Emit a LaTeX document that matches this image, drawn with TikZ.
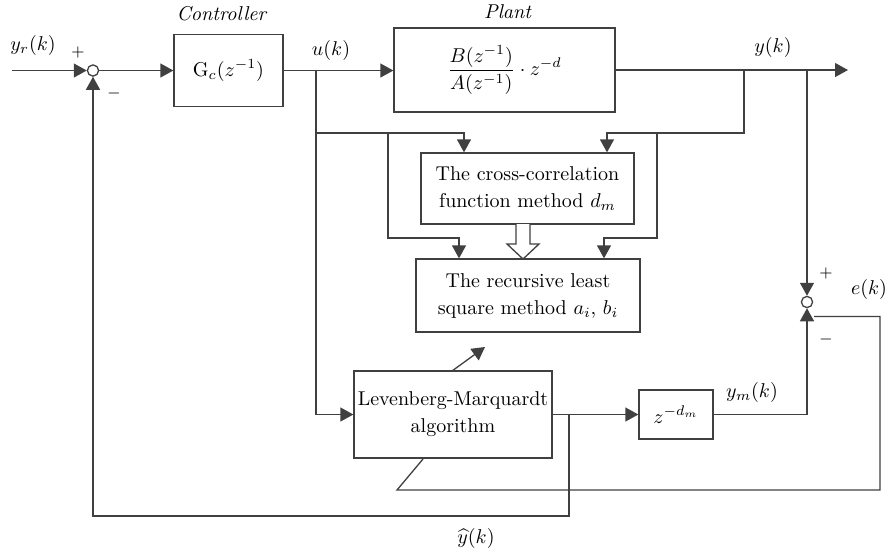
\documentclass[tikz,border=0pt]{standalone}
\usetikzlibrary{arrows.meta,calc}
\definecolor{ink}{HTML}{404040}
\begin{document}
\begin{tikzpicture}[x=0.5pt,y=-0.5pt,
  font=\fontsize{10}{13.5}\selectfont,
  blk/.style={draw=ink, line width=0.65pt, align=center, inner sep=0pt},
  conn/.style={draw=ink, line width=0.65pt},
  arr/.style={conn, -{Triangle[length=6.5pt,width=7pt]}},
  sumpt/.style={circle, draw=ink, line width=0.65pt, minimum size=5.6pt, inner sep=0pt},
  lbl/.style={inner sep=0pt}]
\useasboundingbox (0,0) rectangle (889,554);

% blocks
\node[sumpt] (s1) at (93,70.5) {};
\node[blk, minimum width=54.5pt, minimum height=36pt] (ctrl) at (228.5,70.5) {$\mathrm{G}_c(z^{-1})$};
\node[blk, minimum width=110.5pt, minimum height=42pt] (plant) at (504.5,70) {$\displaystyle\frac{B(z^{-1})}{A(z^{-1})}\cdot z^{-d}$};
\node[blk, minimum width=106.5pt, minimum height=35.5pt] (cc) at (527.5,188.5) {The cross-correlation\\function method $d_m$};
\node[blk, minimum width=112pt, minimum height=36.5pt] (rls) at (528,295.5) {The recursive least\\square method $a_i$, $b_i$};
\node[blk, minimum width=99pt, minimum height=43.5pt] (lm) at (453,414.5) {Levenberg-Marquardt\\algorithm};
\node[blk, minimum width=37pt, minimum height=24.5pt] (zd) at (676,414.5) {$z^{-d_m}$};
\node[sumpt] (s2) at (807,302) {};

% labels
\node[lbl] at (33,45) {$y_r(k)$};
\node[lbl] at (78,52) {\footnotesize$+$};
\node[lbl] at (114,93) {\footnotesize$-$};
\node[lbl] at (222,14) {\textit{Controller}};
\node[lbl] at (508,12) {\textit{Plant}};
\node[lbl] at (331,50) {$u(k)$};
\node[lbl] at (773,47) {$y(k)$};
\node[lbl] at (752,392) {$y_m(k)$};
\node[lbl] at (869,289) {$e(k)$};
\node[lbl] at (826,273) {\footnotesize$+$};
\node[lbl] at (826,339) {\footnotesize$-$};
\node[lbl] at (476,538) {$\widehat{y}(k)$};

% forward path
\coordinate (in) at (12,70.5);
\coordinate (out) at (848,70);
\draw[arr] (in) -- (s1);
\draw[arr] (s1) -- (ctrl);
\draw[arr] (ctrl.east) -- (ctrl.east -| plant.west);
\draw[arr] (plant.east) -- (out);

% u(k) taps
\coordinate (u0) at (316,70.5);
\coordinate (u1) at (316,133);
\coordinate (u2) at (388,133);
\coordinate (ucc) at (464,133);
\coordinate (urls) at (459,238);
\draw[arr] (u0) |- (lm.west);
\draw[arr] (u1) -- (ucc) -- (ucc |- cc.north);
\draw[arr] (u2) |- (urls) -- (urls |- rls.north);

% y(k) taps
\coordinate (y0) at (744,70);
\coordinate (y1) at (657,133);
\coordinate (ycc) at (607,133);
\coordinate (yrls) at (604,238);
\draw[arr] (y0) |- (ycc) -- (ycc |- cc.north);
\draw[arr] (y1) |- (yrls) -- (yrls |- rls.north);
\draw[arr] (807,70) -- (s2);

% delay estimate passed to RLS
\draw[ink, fill=white, line width=0.65pt]
  (516,224) -- (516,244) -- (507,244) -- (523,259) -- (539,244) -- (530,244) -- (530,224);

% model output and error
\draw[arr] (lm.east) -- (zd.west);
\draw[arr] (zd.east) -| (s2);
\coordinate (b1) at (569,414.5);
\coordinate (lowL) at (93,516);
\draw[arr] (b1) |- (lowL) -- (s1);

% error feeds the LM adjustment
\coordinate (ek0) at (814,316.5);
\coordinate (ek1) at (880,316.5);
\coordinate (ek2) at (880,490);
\coordinate (adj0) at (397,490);
\coordinate (adj1) at (423,459);
\draw[conn] (ek0) -- (ek1) -- (ek2) -- (adj0) -- (adj1);
\coordinate (adj2) at (452,371);
\coordinate (adj3) at (485,347);
\draw[arr] (adj2) -- (adj3);
\end{tikzpicture}
\end{document}
